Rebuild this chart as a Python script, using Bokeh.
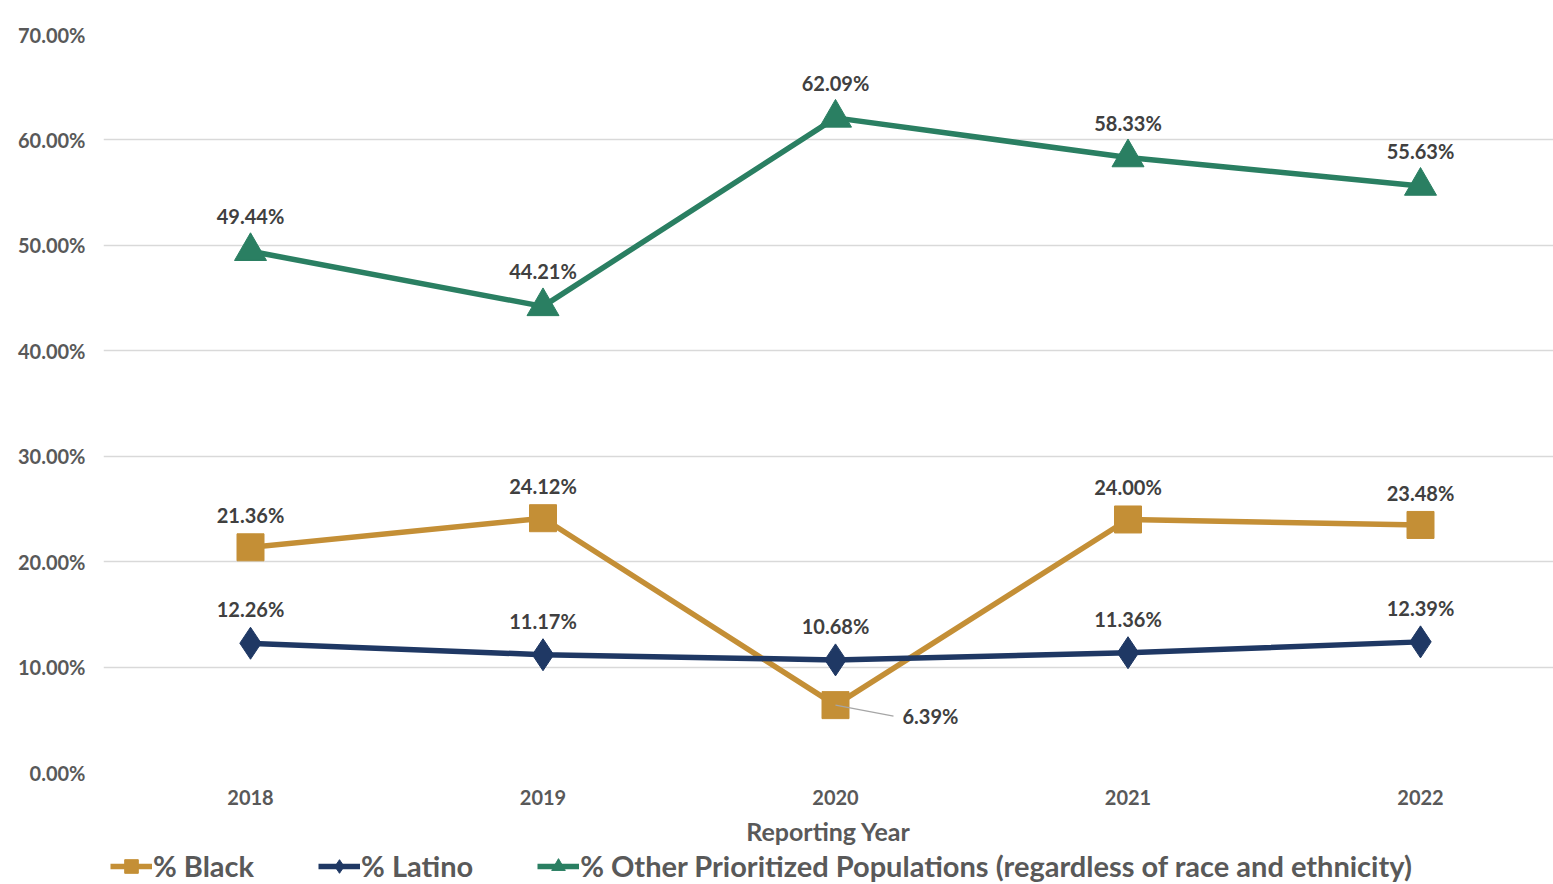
from bokeh.plotting import figure
from bokeh.layouts import column
from bokeh.models import (Range1d, FixedTicker, PrintfTickFormatter, Legend, LegendItem,
                          ColumnDataSource)
from bokeh.core.properties import value
from bokeh.embed import file_html
from bokeh.resources import INLINE

years = ["2018", "2019", "2020", "2021", "2022"]
black = [21.36, 24.12, 6.39, 24.00, 23.48]
latino = [12.26, 11.17, 10.68, 11.36, 12.39]
other = [49.44, 44.21, 62.09, 58.33, 55.63]
y_ticks = [0, 10, 20, 30, 40, 50, 60, 70]
series_names = ["% Black", "% Latino",
                "% Other Prioritized Populations (regardless of race and ethnicity)"]

FONT = "Lato"
C_BLACK = "#C48F36"
C_LATINO = "#1F3864"
C_OTHER = "#2A7F62"
TICK_C = "#595959"
LBL_C = "#404040"

xs = list(range(len(years)))

p = figure(width=1553, height=848, output_backend="svg", toolbar_location=None,
           x_range=Range1d(-0.5026, 4.4547), y_range=Range1d(0, 70),
           min_border_left=103, min_border_right=0, min_border_top=34, min_border_bottom=75)
p.outline_line_color = None
p.background_fill_color = "white"
p.border_fill_color = "white"

p.xgrid.grid_line_color = None
p.ygrid.grid_line_color = "#D9D9D9"
p.ygrid.grid_line_width = 1.3

p.yaxis.ticker = FixedTicker(ticks=y_ticks)
p.yaxis.formatter = PrintfTickFormatter(format="%.2f%%")
p.xaxis.ticker = FixedTicker(ticks=xs)
p.xaxis.major_label_overrides = {i: y for i, y in enumerate(years)}
for ax in (p.xaxis[0], p.yaxis[0]):
    ax.axis_line_color = None
    ax.major_tick_line_color = None
    ax.minor_tick_line_color = None
    ax.major_tick_out = 0
    ax.major_tick_in = 0
    ax.minor_tick_out = 0
    ax.major_label_text_font = FONT
    ax.major_label_text_font_style = "bold"
    ax.major_label_text_font_size = "20px"
    ax.major_label_text_color = TICK_C
p.yaxis.major_label_standoff = 18
p.xaxis.major_label_standoff = 17
p.xaxis.axis_label = "Reporting Year"
p.xaxis.axis_label_text_font = FONT
p.xaxis.axis_label_text_font_style = "bold"
p.xaxis.axis_label_text_font_size = "25px"
p.xaxis.axis_label_text_color = TICK_C
p.xaxis.axis_label_standoff = 8

src = ColumnDataSource(dict(x=xs, black=black, latino=latino, other=other,
                            latino_lbl=["%.2f%%" % v for v in latino],
                            other_lbl=["%.2f%%" % v for v in other]))

p.line("x", "black", source=src, line_color=C_BLACK, line_width=5.5)
p.scatter("x", "black", source=src, marker="square", size=27, fill_color=C_BLACK, line_color=C_BLACK)
p.line("x", "latino", source=src, line_color=C_LATINO, line_width=5.5)
p.scatter("x", "latino", source=src, marker="diamond", size=32, fill_color=C_LATINO, line_color=C_LATINO)
p.line("x", "other", source=src, line_color=C_OTHER, line_width=5.5)
p.scatter("x", "other", source=src, marker="triangle", size=32, fill_color=C_OTHER, line_color=C_OTHER)

lab_kw = dict(text_font=value(FONT), text_font_style="bold", text_font_size="20px",
              text_color=LBL_C, text_baseline="middle")

idx_above = [0, 1, 3, 4]
p.text(x=[xs[i] for i in idx_above], y=[black[i] for i in idx_above],
       text=["%.2f%%" % black[i] for i in idx_above], text_align="center", y_offset=-32, **lab_kw)
p.text(x=[xs[2]], y=[black[2]], text=["%.2f%%" % black[2]], text_align="left",
       x_offset=67, y_offset=11, **lab_kw)
px_per_x = 292.5
px_per_y = 739 / 70.0
p.segment(x0=[xs[2]], y0=[black[2]], x1=[xs[2] + 58 / px_per_x], y1=[black[2] - 11 / px_per_y],
          line_color="#A6A6A6", line_width=1.2)

p.text(x="x", y="latino", text="latino_lbl", source=src, text_align="center", y_offset=-34, **lab_kw)
p.text(x="x", y="other", text="other_lbl", source=src, text_align="center", y_offset=-35, **lab_kw)

# legend strip (separate figure below the chart); its glyphs hold the same series,
# drawn outside the strip's visible range so only the legend shows
q = figure(width=1553, height=36, output_backend="svg", toolbar_location=None,
           x_axis_location=None, y_axis_location=None,
           x_range=Range1d(100, 101), y_range=Range1d(100, 101),
           min_border_left=0, min_border_right=0, min_border_top=0, min_border_bottom=0)
q.grid.visible = False
q.outline_line_color = None
q.border_fill_color = "white"

items = []
for name, col, mk, vals in zip(series_names, [C_BLACK, C_LATINO, C_OTHER],
                               ["square", "diamond", "triangle"], [black, latino, other]):
    r1 = q.line(x=xs, y=vals, line_color=col, line_width=5.5)
    r2 = q.scatter(x=xs, y=vals, marker=mk, size=14, fill_color=col, line_color=col)
    items.append(LegendItem(label=name, renderers=[r1, r2]))

legend = Legend(items=items, orientation="horizontal", location=(7, 1),
                label_text_font=FONT, label_text_font_style="bold", label_text_font_size="29px",
                label_text_color=TICK_C, label_standoff=1, glyph_width=42, glyph_height=34,
                label_height=32, spacing=64, padding=0, margin=0,
                border_line_alpha=0, background_fill_alpha=0)
q.add_layout(legend, "center")

layout = column(p, q, spacing=0)
open("out.html", "w").write(file_html(layout, INLINE))
